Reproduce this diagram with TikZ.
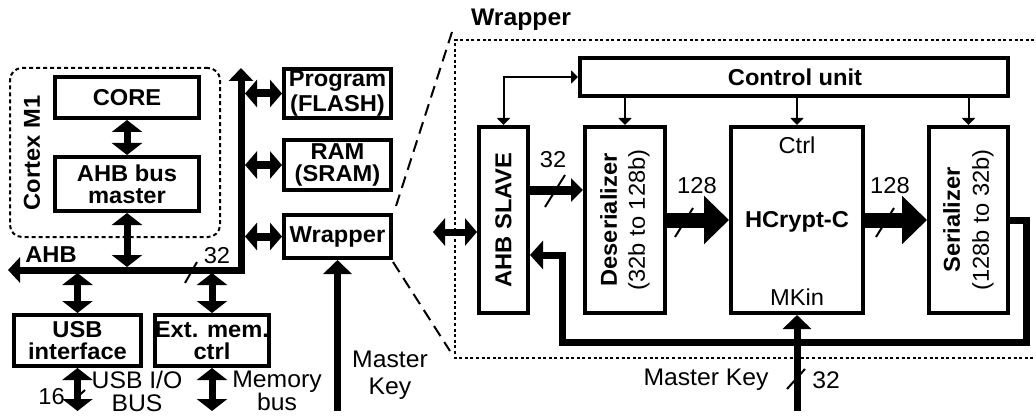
\documentclass[tikz,border=0pt]{standalone}
\usepackage{fontspec}
\setmainfont[FakeStretch=1.03]{Liberation Sans}
\usetikzlibrary{arrows.meta,calc}
\begin{document}
\begin{tikzpicture}[x=1pt,y=-1pt,
  tn/.style={font=\fontsize{23}{23}\selectfont,inner sep=0pt,align=center},
  tb/.style={font=\fontsize{23}{23}\selectfont\bfseries,inner sep=0pt,align=center},
  box/.style={draw,line width=4pt,inner sep=0pt,align=center,font=\fontsize{23}{23}\selectfont\bfseries},
  dbl/.style={line width=7pt,{Triangle[width=30pt,length=12pt]}-{Triangle[width=30pt,length=12pt]}},
  hdbl/.style={line width=8pt,{Triangle[width=27pt,length=12pt]}-{Triangle[width=27pt,length=12pt]}},
  ctl/.style={line width=2pt,-{Triangle[width=13pt,length=7pt]}},
  slash/.style={line width=2pt},
  bigarr/.style={line width=15pt,-{Triangle[width=47pt,length=25pt]}},
  midarr/.style={line width=9pt,-{Triangle[width=23pt,length=12pt]}},
  keyarr/.style={line width=7pt,-{Triangle[width=28pt,length=14pt]}},
  fbk/.style={line width=7pt,line join=miter,-{Triangle[width=28pt,length=13pt]}},
]
\useasboundingbox (0,0) rectangle (1036,417);

% ---------------- left system ----------------
\node[draw,line width=2pt,dash pattern=on 4pt off 3pt,rounded corners=12pt,
  minimum width=210pt,minimum height=169pt] (cortex) at (115,152.5) {};
\node[tb,rotate=90] (cortexlbl) at (32,153) {Cortex M1};

\node[box,minimum width=144pt,minimum height=41pt] (core) at (127,97.5) {CORE};
\node[box,minimum width=144pt,minimum height=54pt,font=\fontsize{23}{22}\selectfont\bfseries] (ahbm) at (127,184) {AHB bus\\master};

\node[box,minimum width=107pt,minimum height=49pt,font=\fontsize{23}{24.5}\selectfont\bfseries] (prog) at (337.5,93.5) {Program\\(FLASH)};
\node[box,minimum width=107pt,minimum height=50pt,font=\fontsize{23}{22}\selectfont\bfseries] (ram) at (337.5,165) {RAM\\(SRAM)};
\node[box,minimum width=107pt,minimum height=43pt] (wr) at (337.5,236.5) {Wrapper};

\node[box,minimum width=127pt,minimum height=51pt,font=\fontsize{23}{22}\selectfont\bfseries] (usb) at (77.5,340.5) {USB\\interface};
\node[box,minimum width=112pt,minimum height=51pt,font=\fontsize{23}{22}\selectfont\bfseries] (ext) at (212,340.5) {Ext. mem.\\ctrl};

% AHB bus
\coordinate (busL) at (8,270);
\coordinate (busC) at (241,270);
\coordinate (busT) at (241,68);
\draw[line width=7pt,line join=miter,{Triangle[width=25pt,length=12pt]}-{Triangle[width=24pt,length=13pt]}] (busL) -- (busC) -- (busT);
\node[tb] (ahblbl) at (51,255) {AHB};
\node[tn] (w32a) at (217,256) {32};
\coordinate (s1a) at (185,283);
\coordinate (s1b) at (197,262);
\draw[slash] (s1a) -- (s1b);

\coordinate (b1) at (127,267);
\coordinate (b2) at (77.5,273);
\coordinate (b3) at (212,273);
\coordinate (bv) at (245,0);
\draw[dbl] (core.south) -- (ahbm.north);
\draw[dbl] (ahbm.south) -- (b1);
\draw[dbl] (b2) -- (usb.north);
\draw[dbl] (b3) -- (ext.north);
\draw[hdbl] (prog.west -| bv) -- (prog.west);
\draw[hdbl] (ram.west -| bv) -- (ram.west);
\draw[hdbl] (wr.west -| bv) -- (wr.west);

% external buses
\coordinate (usbEnd) at (77.5,411);
\coordinate (extEnd) at (212,411);
\draw[dbl] (usb.south) -- (usbEnd);
\draw[dbl] (ext.south) -- (extEnd);
\coordinate (s2a) at (71,403);
\coordinate (s2b) at (85,390);
\draw[slash] (s2a) -- (s2b);
\node[tn,anchor=east] (w16) at (65,397) {16};
\node[tn,font=\fontsize{24}{23}\selectfont] (usbio) at (137,391) {USB I/O\\BUS};
\node[tn,font=\fontsize{24}{23}\selectfont] (membus) at (277,391) {Memory\\bus};

% master key into wrapper
\coordinate (mk1) at (337.5,411);
\draw[keyarr] (mk1) -- (wr.south);
\node[tn,font=\fontsize{24}{27}\selectfont] (mklbl1) at (390,375) {Master\\Key};

% zoom lines
\coordinate (z1a) at (396,206);
\coordinate (z1b) at (452,32);
\coordinate (z2a) at (393,262);
\coordinate (z2b) at (450,351);
\draw[line width=2pt,dash pattern=on 12pt off 7pt] (z1a) -- (z1b);
\draw[line width=2pt,dash pattern=on 12pt off 7pt] (z2a) -- (z2b);

% ---------------- wrapper detail ----------------
\coordinate (wTR) at (1040,40);
\coordinate (wTL) at (455,40);
\coordinate (wBL) at (455,358);
\coordinate (wBR) at (1040,358);
\draw[line width=2.5pt,dash pattern=on 3pt off 2.6pt] (wTR) -- (wTL) -- (wBL) -- (wBR);
\node[tb,font=\fontsize{24}{24}\selectfont\bfseries] (wrlbl) at (521,20) {Wrapper};

\node[box,minimum width=428pt,minimum height=38pt] (cu) at (794,77) {};
\node[tb] (culbl) at (795,77) {Control unit};
\node[box,minimum width=49pt,minimum height=186pt] (slave) at (503.5,220) {};
\node[tb,rotate=90] (slavelbl) at (503.5,220) {AHB SLAVE};
\node[box,minimum width=80pt,minimum height=186pt] (des) at (625,220) {};
\node[tn,rotate=90,font=\fontsize{23}{28}\selectfont] (deslbl) at (625,220) {\textbf{Deserializer}\\(32b to 128b)};
\node[box,minimum width=132pt,minimum height=186pt] (hc) at (797,220) {};
\node[tn] (ctrllbl) at (797,145) {Ctrl};
\node[tb] (hclbl) at (797,222) {HCrypt-C};
\node[tn] (mkinlbl) at (797,297) {MKin};
\node[box,minimum width=79pt,minimum height=186pt] (ser) at (968.5,220) {};
\node[tn,rotate=90,font=\fontsize{23}{29}\selectfont] (serlbl) at (968.5,220) {\textbf{Serializer}\\(128b to 32b)};

% control arrows
\draw[line width=2pt,{Triangle[width=13pt,length=7pt]}-{Triangle[width=13pt,length=7pt]}] (slave.north) |- (cu.west);
\draw[ctl] (des.north |- cu.south) -- (des.north);
\draw[ctl] (hc.north |- cu.south) -- (hc.north);
\draw[ctl] (ser.north |- cu.south) -- (ser.north);

% data path
\draw[midarr] ($(slave.east)+(0,-30)$) -- ($(des.west)+(0,-30)$);
\node[tn] (w32b) at (553,160) {32};
\coordinate (s3a) at (545,207);
\coordinate (s3b) at (565,175);
\draw[slash] (s3a) -- (s3b);

\draw[bigarr] (des.east) -- (hc.west);
\node[tn] (w128a) at (697,186) {128};
\coordinate (s4a) at (675,237);
\coordinate (s4b) at (693,208);
\draw[slash] (s4a) -- (s4b);

\draw[bigarr] (hc.east) -- (ser.west);
\node[tn] (w128b) at (890,186) {128};
\coordinate (s5a) at (876,237);
\coordinate (s5b) at (894,208);
\draw[slash] (s5a) -- (s5b);

% feedback
\coordinate (fbR) at (1026,342);
\coordinate (fbL) at (562,255);
\draw[fbk] (ser.east) -| (fbR) -| (fbL) -- (slave.east |- fbL);

% bus interface to slave
\coordinate (sL) at (433,232);
\draw[hdbl,line width=7pt] (sL) -- (slave.west |- sL);

% master key into HCrypt
\coordinate (mk2) at (797,411);
\draw[keyarr] (mk2) -- (hc.south);
\node[tn,font=\fontsize{24}{24}\selectfont] (mklbl2) at (706,380) {Master Key};
\node[tn,font=\fontsize{24}{24}\selectfont] (w32c) at (826,380) {32};
\coordinate (s6a) at (787,389);
\coordinate (s6b) at (805,369);
\draw[slash] (s6a) -- (s6b);
\end{tikzpicture}
\end{document}
